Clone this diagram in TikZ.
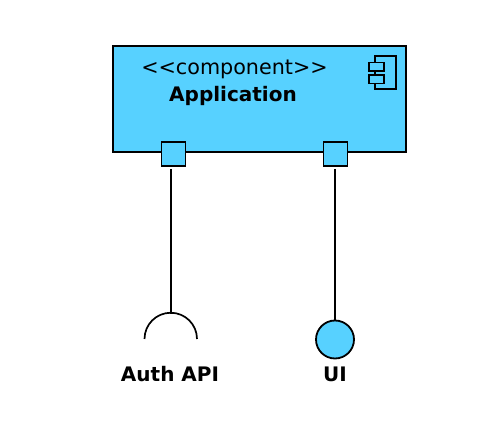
\documentclass[tikz,border=0pt]{standalone}
\usepackage{fontspec}
\setmainfont{DejaVu Sans}
\usetikzlibrary{positioning}
\definecolor{compblue}{RGB}{87,209,255}
\tikzset{
  compbox/.style={draw,fill=compblue,line width=1.8pt,minimum width=293pt,minimum height=106pt,inner sep=0pt},
  portbox/.style={draw,fill=compblue,line width=1.8pt,minimum size=24pt,inner sep=0pt},
  tabbox/.style={draw,fill=compblue,line width=1.5pt,minimum width=15pt,minimum height=8.5pt,inner sep=0pt},
  lollipop/.style={circle,draw,fill=compblue,line width=1.8pt,minimum size=38pt,inner sep=0pt},
  caption/.style={font=\fontsize{20}{22}\selectfont\bfseries,inner sep=0pt},
  wire/.style={draw,shorten <=2pt},
}
\begin{document}
\begin{tikzpicture}[x=1pt,y=-1pt,line width=1.7pt]
  \useasboundingbox (0,0) rectangle (503,427);
  \node[compbox](app) at (259.5,99){};
  \node[font=\fontsize{20.7}{22}\selectfont,inner sep=0pt](stereo) at (234.5,69){{<}{<}component{>}{>}};
  \node[caption](appname) at (233,96){Application};
  % component icon
  \node[draw,line width=1.5pt,minimum width=21pt,minimum height=33pt,inner sep=0pt](icon) at (385.5,72.5){};
  \node[tabbox](tab1) at (376.5,67){};
  \node[tabbox,below=2.5pt of tab1](tab2){};
  % ports
  \node[portbox](authport) at (173.5,154){};
  \node[portbox](uiport) at (335.5,154){};
  % required and provided interfaces
  \coordinate (socket) at (171,314);
  \node[lollipop](uiball) at (335,339.5){};
  \draw (144.5,339) arc[start angle=180,end angle=360,radius=26.25];
  \node[caption](authlabel) at (170,374){Auth API};
  \node[caption](uilabel) at (335,374){UI};
  \path[wire] (authport.south -| socket) -- (socket);
  \path[wire] (uiport.south -| uiball) -- (uiball.north);
\end{tikzpicture}
\end{document}
